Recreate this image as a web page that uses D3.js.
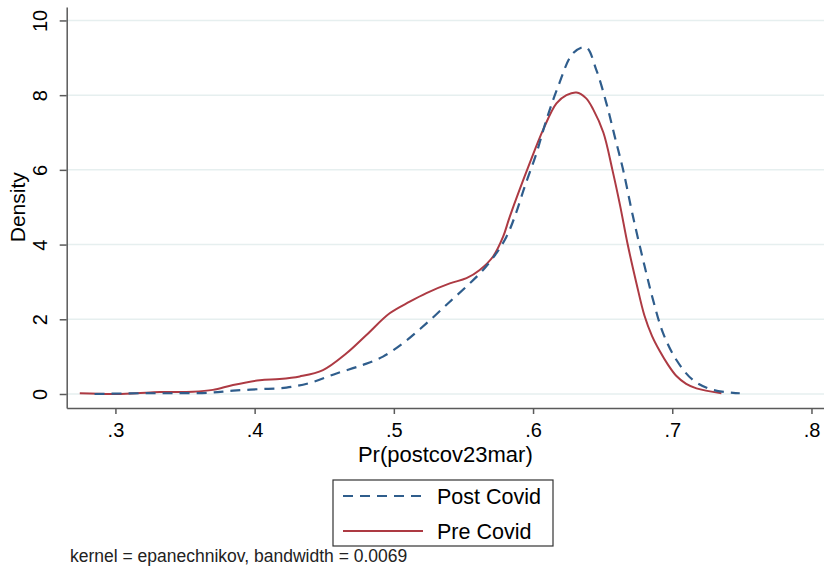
<!DOCTYPE html>
<html>
<head>
<meta charset="utf-8">
<script src="https://cdn.jsdelivr.net/npm/d3@7"></script>
<style>
  html, body { margin: 0; padding: 0; background: #fff; }
  svg { display: block; font-family: "Liberation Sans", Arial, Helvetica, sans-serif; }
</style>
</head>
<body>
<svg id="chart" width="824" height="576"></svg>
<script>
// ---- Data ----
const seriesNames = ["Post Covid", "Pre Covid"];
const postX = [0.285, 0.3175, 0.3438, 0.3677, 0.3845, 0.4037, 0.4228, 0.44, 0.4588, 0.4779, 0.4922, 0.5066, 0.5234, 0.5402, 0.5545, 0.5641, 0.5737, 0.5809, 0.5869, 0.594, 0.6024, 0.6096, 0.618, 0.6287, 0.638, 0.6455, 0.6527, 0.6587, 0.6647, 0.6718, 0.6802, 0.6862, 0.6934, 0.703, 0.715, 0.7293, 0.7485];
const postY = [0.0, 0.02, 0.02, 0.035, 0.09, 0.13, 0.17, 0.30, 0.55, 0.78, 1.0, 1.36, 1.89, 2.47, 2.96, 3.32, 3.77, 4.21, 4.75, 5.55, 6.44, 7.34, 8.23, 9.12, 9.28, 8.67, 7.78, 6.89, 6.0, 4.75, 3.41, 2.52, 1.63, 0.91, 0.37, 0.11, 0.02];
const preX = [0.2744, 0.298, 0.315, 0.3318, 0.3557, 0.37, 0.3845, 0.4037, 0.418, 0.4324, 0.4491, 0.466, 0.4803, 0.497, 0.5114, 0.5234, 0.5402, 0.5522, 0.5617, 0.5713, 0.5785, 0.5833, 0.5976, 0.6072, 0.6168, 0.624, 0.6312, 0.638, 0.6432, 0.6505, 0.657, 0.6625, 0.668, 0.6743, 0.680, 0.6855, 0.691, 0.697, 0.703, 0.71, 0.7174, 0.7353];
const preY = [0.02, 0.0, 0.02, 0.05, 0.06, 0.11, 0.24, 0.37, 0.40, 0.47, 0.64, 1.09, 1.58, 2.16, 2.47, 2.70, 2.96, 3.10, 3.32, 3.68, 4.21, 4.75, 6.18, 7.07, 7.78, 8.0, 8.07, 7.92, 7.62, 7.0, 6.0, 5.05, 4.0, 2.96, 2.1, 1.55, 1.15, 0.78, 0.48, 0.27, 0.15, 0.02];
const xTicks = [0.3, 0.4, 0.5, 0.6, 0.7, 0.8];
const xTickLabels = [".3", ".4", ".5", ".6", ".7", ".8"];
const yTicks = [0, 2, 4, 6, 8, 10];
const xDomain = [0.265, 0.809];
const yDomain = [-0.375, 10.36];
const xTitle = "Pr(postcov23mar)";
const yTitle = "Density";
const note = "kernel = epanechnikov, bandwidth = 0.0069";

// ---- Layout ----
const svg = d3.select("#chart");
const L = 66.7, R = 824, T = 7, B = 408;
const x = d3.scaleLinear().domain(xDomain).range([L, R]);
const y = d3.scaleLinear().domain(yDomain).range([B, T]);
const colors = { "Post Covid": "#2f5d8c", "Pre Covid": "#ad3a43" };
const axisColor = "#5a5a5a";
const fontSize = 20;

// gridlines
svg.append("g").selectAll("line").data(yTicks).join("line")
  .attr("x1", L).attr("x2", R)
  .attr("y1", d => y(d)).attr("y2", d => y(d))
  .attr("stroke", "#e6efef").attr("stroke-width", 1.5);

// Curves
const line = d3.line().x(d => x(d[0])).y(d => Math.min(y(0), y(d[1])))
  .curve(d3.curveCatmullRom.alpha(0.5));
const postData = postX.map((v, i) => [v, postY[i]]);
const preData = preX.map((v, i) => [v, preY[i]]);

svg.append("path").datum(preData).attr("d", line)
  .attr("fill", "none").attr("stroke", colors["Pre Covid"]).attr("stroke-width", 2);
svg.append("path").datum(postData).attr("d", line)
  .attr("fill", "none").attr("stroke", colors["Post Covid"]).attr("stroke-width", 2.2)
  .attr("stroke-dasharray", "10,7");

// X axis
const xAxis = d3.axisBottom(x).tickValues(xTicks).tickFormat((d, i) => xTickLabels[i])
  .tickSize(6).tickSizeOuter(0).tickPadding(8);
const gx = svg.append("g").attr("transform", `translate(0,${B})`).call(xAxis);
gx.select(".domain").attr("stroke", axisColor).attr("stroke-width", 1.5);
gx.selectAll(".tick line").attr("stroke", axisColor).attr("stroke-width", 1.5);
gx.selectAll(".tick text").attr("fill", "#000").attr("font-size", fontSize)
  .attr("font-family", "Liberation Sans, Arial, sans-serif")
  .attr("dy", null).attr("y", 22).attr("dominant-baseline", "central");

// Y axis
const yAxis = d3.axisLeft(y).tickValues(yTicks).tickSize(7).tickSizeOuter(0);
const gy = svg.append("g").attr("transform", `translate(${L},0)`).call(yAxis);
gy.select(".domain").attr("stroke", axisColor).attr("stroke-width", 1.5);
gy.selectAll(".tick line").attr("stroke", axisColor).attr("stroke-width", 1.5);
gy.selectAll(".tick text").attr("fill", "#000").attr("font-size", fontSize)
  .attr("font-family", "Liberation Sans, Arial, sans-serif")
  .attr("transform", "rotate(-90)")
  .attr("x", 0).attr("y", -(L - 40)).attr("dy", null)
  .attr("text-anchor", "middle").attr("dominant-baseline", "central");

// Axis titles
svg.append("text").attr("x", (L + R) / 2).attr("y", 454)
  .attr("text-anchor", "middle").attr("dominant-baseline", "central")
  .attr("font-size", 22).attr("fill", "#000").text(xTitle);
svg.append("text").attr("transform", `translate(17,${(y(0) + y(10)) / 2}) rotate(-90)`)
  .attr("text-anchor", "middle").attr("dominant-baseline", "central")
  .attr("font-size", 21).attr("fill", "#000").text(yTitle);

// Legend
const lg = svg.append("g");
lg.append("rect").attr("x", 333).attr("y", 480).attr("width", 220).attr("height", 66)
  .attr("fill", "#fff").attr("stroke", "#333").attr("stroke-width", 1.2);
const legendItems = [
  { name: seriesNames[0], dash: "10,7", yy: 496 },
  { name: seriesNames[1], dash: null, yy: 531 }
];
legendItems.forEach(it => {
  lg.append("line").attr("x1", 343).attr("x2", 423).attr("y1", it.yy).attr("y2", it.yy)
    .attr("stroke", colors[it.name]).attr("stroke-width", 2)
    .attr("stroke-dasharray", it.dash);
  lg.append("text").attr("x", 437).attr("y", it.yy + 1)
    .attr("dominant-baseline", "central").attr("font-size", 21.5).attr("fill", "#000")
    .text(it.name);
});

// Note
svg.append("text").attr("x", 70).attr("y", 556).attr("dominant-baseline", "central")
  .attr("font-size", 17.5).attr("fill", "#222").text(note);
</script>
</body>
</html>
